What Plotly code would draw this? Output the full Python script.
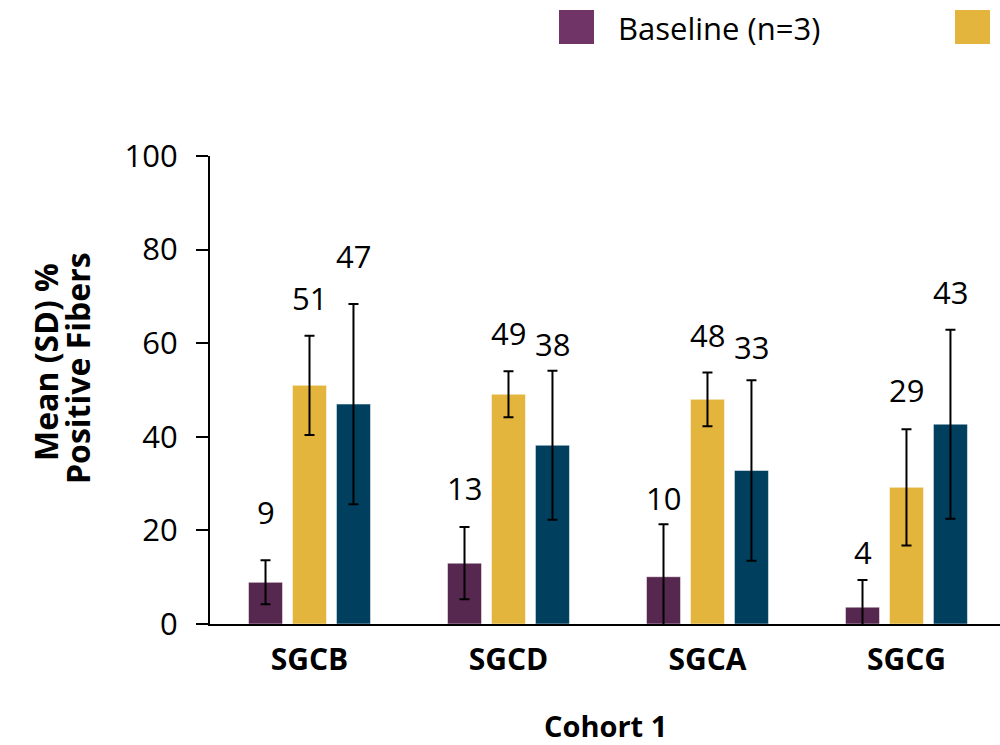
import plotly.graph_objects as go

categories = ["SGCB", "SGCD", "SGCA", "SGCG"]
series_names = ["Baseline (n=3)", "Series 2", "Series 3"]
baseline_mean = [9, 13, 10, 4]
baseline_sd = [4.7, 7.7, 11.2, 5.8]
s2_mean = [51, 49, 48, 29]
s2_sd = [10.6, 4.9, 5.75, 12.4]
s3_mean = [47, 38, 33, 43]
s3_sd = [21.4, 15.9, 19.3, 20.2]
display_means = [baseline_mean, s2_mean, s3_mean]
series_sds = [baseline_sd, s2_sd, s3_sd]
# plotted means
plot_means = [
    [8.9, 13.0, 10.1, 3.6],
    [51.0, 49.1, 48.0, 29.2],
    [47.0, 38.2, 32.8, 42.7],
]
yticks = [0, 20, 40, 60, 80, 100]
y_title_lines = ["Mean (SD) %", "Positive Fibers"]
x_title = "Cohort 1"

bar_colors = ["#56284F", "#E3B53C", "#013F5F"]
legend_colors = ["#703466", "#E3B53C", "#013F5F"]
FONT = "Open Sans, sans-serif"

bar_w = 0.171
spacing = 0.221
offsets = [-spacing, 0.0, spacing]
# label vertical gaps (px) above error-bar tops
label_gaps = [
    [48, 39, 26, 28],
    [38, 38, 37, 39],
    [48, 27, 33, 38],
]

W, H = 1000, 745
ml, mr, mt, mb = 210, 0, 156, 121
pw, ph = W - ml - mr, H - mt - mb


def px_x(p):
    return (p - ml) / pw


def px_y(p):
    return (H - mb - p) / ph


xs = list(range(len(categories)))
fig = go.Figure()
for s in range(3):
    fig.add_trace(go.Bar(
        x=xs,
        y=plot_means[s],
        width=bar_w,
        offset=offsets[s] - bar_w / 2,
        marker=dict(color=bar_colors[s], line=dict(color="rgba(255,255,255,0.5)", width=1)),
        error_y=dict(type="data", array=series_sds[s], visible=True,
                     color="black", thickness=2, width=5),
        name=series_names[s],
        showlegend=False,
    ))

annotations = []
for s in range(3):
    for i in range(len(categories)):
        annotations.append(dict(
            x=xs[i] + offsets[s], y=plot_means[s][i] + series_sds[s][i],
            xref="x", yref="y", text=str(display_means[s][i]),
            showarrow=False, yanchor="middle", xanchor="center",
            yshift=label_gaps[s][i],
            font=dict(family=FONT, size=31, color="black"),
        ))

# y axis title as two rotated lines
for line, cx, cy in zip(y_title_lines, [45, 77], [362, 368]):
    annotations.append(dict(
        x=px_x(cx), y=px_y(cy), xref="paper", yref="paper", text=f"<b>{line}</b>",
        showarrow=False, textangle=-90, font=dict(family=FONT, size=32, color="black"),
        xanchor="center", yanchor="middle",
    ))
# x axis title
annotations.append(dict(
    x=0.5, y=px_y(725), xref="paper", yref="paper", text=f"<b>{x_title}</b>",
    showarrow=False, yanchor="middle", xanchor="center",
    font=dict(family=FONT, size=29, color="black"),
))
# legend text
annotations.append(dict(
    x=px_x(616), y=px_y(28), xref="paper", yref="paper", text=series_names[0],
    showarrow=False, xanchor="left", yanchor="middle",
    font=dict(family=FONT, size=31, color="black"),
))

shapes = []
for k, lx in enumerate([559, 955]):
    shapes.append(dict(type="rect", xref="paper", yref="paper",
                       x0=px_x(lx), x1=px_x(lx + 35), y0=px_y(44), y1=px_y(10),
                       fillcolor=legend_colors[k], line=dict(width=0)))

fig.update_layout(
    width=W, height=H,
    margin=dict(l=ml, r=mr, t=mt, b=mb, pad=0),
    plot_bgcolor="white", paper_bgcolor="white",
    barmode="overlay",
    xaxis=dict(range=[-0.5, 3.47], tickvals=xs, ticktext=[f"<b>{c}</b>" for c in categories],
               showline=True, linecolor="black", linewidth=2, ticks="",
               showgrid=False, zeroline=False,
               tickfont=dict(family=FONT, size=30, color="black"),
               ticklabelstandoff=8),
    yaxis=dict(range=[0, 100], tickvals=yticks, showline=True, linecolor="black", linewidth=2,
               ticks="outside", ticklen=12, tickwidth=2, tickcolor="black",
               showgrid=False, zeroline=False,
               tickfont=dict(family=FONT, size=31, color="black"),
               ticklabelstandoff=12),
    annotations=annotations,
    shapes=shapes,
)

fig.write_html("out.html",
               config={"displayModeBar": False},
               post_script="document.body.style.margin='0px';document.body.style.overflow='hidden';")
